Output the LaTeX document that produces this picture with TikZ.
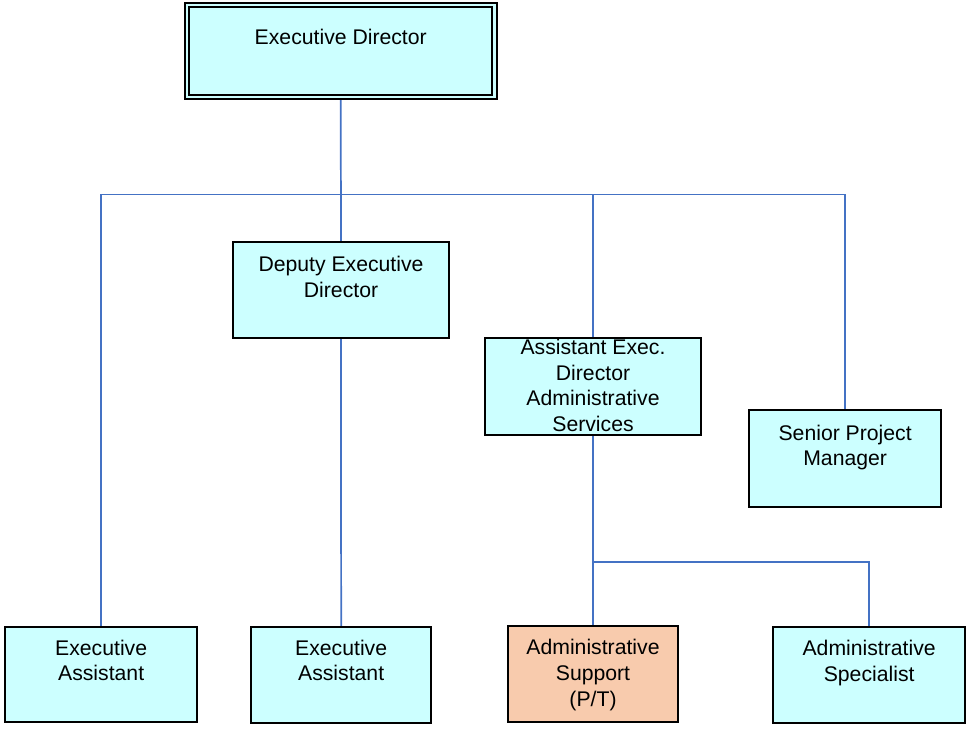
\documentclass[tikz,border=0pt]{standalone}
\usepackage{fontspec}
\usetikzlibrary{backgrounds}
\setmainfont{Liberation Sans}
\definecolor{cyanfill}{HTML}{CCFFFF}
\definecolor{orangefill}{HTML}{F8CBAD}
\definecolor{lineblue}{HTML}{4472C4}
\begin{document}
\begin{tikzpicture}[x=0.75pt,y=-0.75pt,
  box/.style={draw=black, line width=1.3pt, fill=cyanfill, inner sep=0pt, outer sep=0pt, anchor=north west},
  lbl/.style={anchor=base, align=center, inner sep=0pt, font=\fontsize{15.9}{19.2}\selectfont},
  conn/.style={draw=lineblue, line width=1.3pt}]
\useasboundingbox (0,0) rectangle (967,729);
% boxes
\node[box, draw=black, double=cyanfill, double distance=2.2pt, line width=1.2pt,
      minimum width=307.5*0.75pt, minimum height=92*0.75pt] (ed) at (187,5) {};
\node[box, minimum width=216.6*0.75pt, minimum height=96*0.75pt] (dep) at (232.7,242.3) {};
\node[box, minimum width=216*0.75pt, minimum height=96.7*0.75pt] (aed) at (485,338.3) {};
\node[box, minimum width=192.3*0.75pt, minimum height=96.7*0.75pt] (spm) at (749,410) {};
\node[box, minimum width=192.3*0.75pt, minimum height=95*0.75pt] (ea1) at (5,626.7) {};
\node[box, minimum width=180.3*0.75pt, minimum height=96*0.75pt] (ea2) at (251,626.7) {};
\node[box, fill=orangefill, minimum width=170*0.75pt, minimum height=96*0.75pt] (sup) at (508,626.3) {};
\node[box, minimum width=191.7*0.75pt, minimum height=95.4*0.75pt] (asp) at (773.3,627.3) {};
% labels (base anchor = baseline of the last line)
\node[lbl] (tED) at ([yshift=-39*0.75pt]ed.north) {Executive Director};
\node[lbl] (tDEP) at ([yshift=-55*0.75pt]dep.north) {Deputy Executive\\Director};
\node[lbl] (tAED) at ([yshift=-93*0.75pt]aed.north) {Assistant Exec.\\Director\\Administrative\\Services};
\node[lbl] (tSPM) at ([yshift=-55.6*0.75pt]spm.north) {Senior Project\\Manager};
\node[lbl] (tEA1) at ([yshift=-54.1*0.75pt]ea1.north) {Executive\\Assistant};
\node[lbl] (tEA2) at ([yshift=-54.1*0.75pt]ea2.north) {Executive\\Assistant};
\node[lbl] (tSUP) at ([yshift=-79.7*0.75pt]sup.north) {Administrative\\Support\\(P/T)};
\node[lbl] (tASP) at ([yshift=-54.1*0.75pt]asp.north) {Administrative\\Specialist};
% connectors
\coordinate (j) at (340.9,194.5);
\coordinate (k) at (593,562.3);
\begin{scope}[on background layer]
\draw[conn] (ed.south) -- (j);
\draw[conn] (ea1.north) |- (j) -| (spm.north);
\draw[conn] (j) -- (dep.north);
\draw[conn] (aed.north) -- (aed.north |- j);
\draw[conn] (dep.south) -- (ea2.north);
\draw[conn] (aed.south) -- (sup.north);
\draw[conn] (k) -| (asp.north);
\end{scope}
\end{tikzpicture}
\end{document}
